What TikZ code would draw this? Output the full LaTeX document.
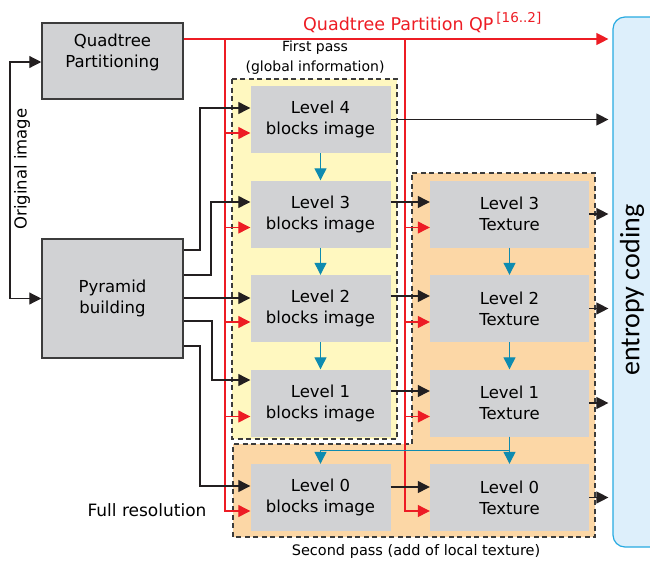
\documentclass[tikz,border=0pt]{standalone}
\usepackage{fontspec}
\setmainfont{DejaVu Sans}
\newfontfamily\calib{Carlito}
\usetikzlibrary{arrows.meta}
\definecolor{grigio}{RGB}{209,210,212}
\definecolor{bordo}{RGB}{60,60,60}
\definecolor{scuro}{RGB}{35,31,32}
\definecolor{rosso}{RGB}{237,28,36}
\definecolor{blu}{RGB}{14,139,176}
\definecolor{giallo}{RGB}{255,248,192}
\definecolor{arancio}{RGB}{252,215,166}
\definecolor{azzurro}{RGB}{221,239,251}
\definecolor{azzbordo}{RGB}{39,170,225}
\begin{document}
\begin{tikzpicture}[x=1pt, y=-1pt,
    testo/.style={font=\fontsize{16.5}{21}\selectfont, align=center},
    ingr/.style={rectangle, draw=bordo, line width=1.5pt, fill=grigio, minimum width=141pt, inner sep=0pt},
    livello/.style={rectangle, fill=grigio, minimum height=67pt, inner sep=0pt, testo},
    zona/.style={draw=bordo, line width=1.2pt, dash pattern=on 5pt off 3.5pt},
    punta/.style={-{Triangle[length=12pt,width=12pt]}},
    nero/.style={draw=scuro, line width=1.2pt, punta},
    rossa/.style={draw=rosso, line width=1.2pt, punta},
    freccia blu/.style={draw=blu, line width=1.2pt, punta}]
    \useasboundingbox (0,0) rectangle (650,560);

    % zone tratteggiate
    \draw[zona, fill=arancio] (412,173) -- (595,173) -- (595,537) -- (233,537) -- (233,444) -- (412,444) -- cycle;
    \draw[zona, fill=giallo] (232,79) rectangle (397,439);

    % codifica entropica
    \node[rectangle, rounded corners=12pt, draw=azzbordo, line width=1.2pt, fill=azzurro,
          minimum width=52pt, minimum height=530pt] (ec) at (639,282) {};
    \node[rotate=90, font=\calib\fontsize{28}{32}\selectfont] (ectxt) at (632,290) {entropy coding};

    % blocchi
    \node[ingr, minimum height=76pt] (qp) at (112.5,61) {};
    \node[testo] (qptxt) at (112.5,52.5) {Quadtree\\Partitioning};
    \node[ingr, minimum height=119pt, testo] (pb) at (112.5,298.5) {Pyramid\\building};
    \foreach \lv/\yy in {4/119.5, 3/214, 2/308.5, 1/403, 0/497.5}
        \node[livello, minimum width=140pt] (b\lv) at (320.5,\yy) {Level \lv\\blocks image};
    \foreach \lv/\yy in {3/214, 2/308.5, 1/403, 0/497.5}
        \node[livello, minimum width=159pt] (t\lv) at (509.5,\yy) {Level \lv\\Texture};

    % etichette
    \node[anchor=base west, inner sep=0pt, text=rosso, font=\fontsize{17.5}{20}\selectfont] (qptitle) at (303,30)
        {Quadtree Partition QP\,\raisebox{8pt}{\fontsize{13.5}{15}\selectfont [16..2]}};
    \node[align=center, font=\fontsize{14}{20}\selectfont] (pass1) at (315,58) {First pass\\(global information)};
    \node[font=\fontsize{14.5}{17}\selectfont] (pass2) at (416,551) {Second pass (add of local texture)};
    \node[font=\fontsize{17}{20}\selectfont] (fullres) at (147,510) {Full resolution};
    \node[rotate=90, font=\fontsize{16.5}{20}\selectfont] (origimg) at (22,169) {Original image};

    % partizione QP
    \coordinate (rA) at (225,39);
    \coordinate (rB) at (405,39);
    \draw[rossa, shorten >=4pt] (qp.east |- rA) -- (ec.west |- rA);
    \draw[rossa] (rA) |- (b0.west |- 0,511);
    \draw[rossa] (rB) |- (t0.west |- 0,511);
    \foreach \lv/\yy in {4/133, 3/227.5, 2/322, 1/416.5}
        \draw[rossa] (225,\yy) -- (b\lv.west |- 0,\yy);
    \foreach \lv/\yy in {3/227.5, 2/322, 1/416.5}
        \draw[rossa] (405,\yy) -- (t\lv.west |- 0,\yy);

    % immagine originale e piramide
    \draw[nero, {Triangle[length=12pt,width=12pt]}-{Triangle[length=12pt,width=12pt]}] (pb.west) -| (10,62) -- (qp.west |- 0,62);
    \foreach \ya/\xm/\yb/\lv in {250/200/108/4, 275/211/202/3, 298/215/298/2, 321/212/380/1, 346/200/486/0}
        \draw[nero] (pb.east |- 0,\ya) -| (\xm,\yb) -- (b\lv.west |- 0,\yb);
    \foreach \lv/\yy in {3/202, 2/296, 1/391, 0/487}
        \draw[nero] (b\lv.east |- 0,\yy) -- (t\lv.west |- 0,\yy);
    \draw[nero, shorten >=4pt] (b4) -- (b4 -| ec.west);
    \foreach \lv in {3,2,1,0}
        \draw[nero, shorten >=4pt] (t\lv) -- (t\lv -| ec.west);

    % livelli
    \foreach \a/\b in {b4/b3, b3/b2, b2/b1, t3/t2, t2/t1, t1/t0}
        \draw[freccia blu] (\a) -- (\b);
    \draw[freccia blu] (t1.south) -- ++(0,14) -| (b0.north);
\end{tikzpicture}
\end{document}
